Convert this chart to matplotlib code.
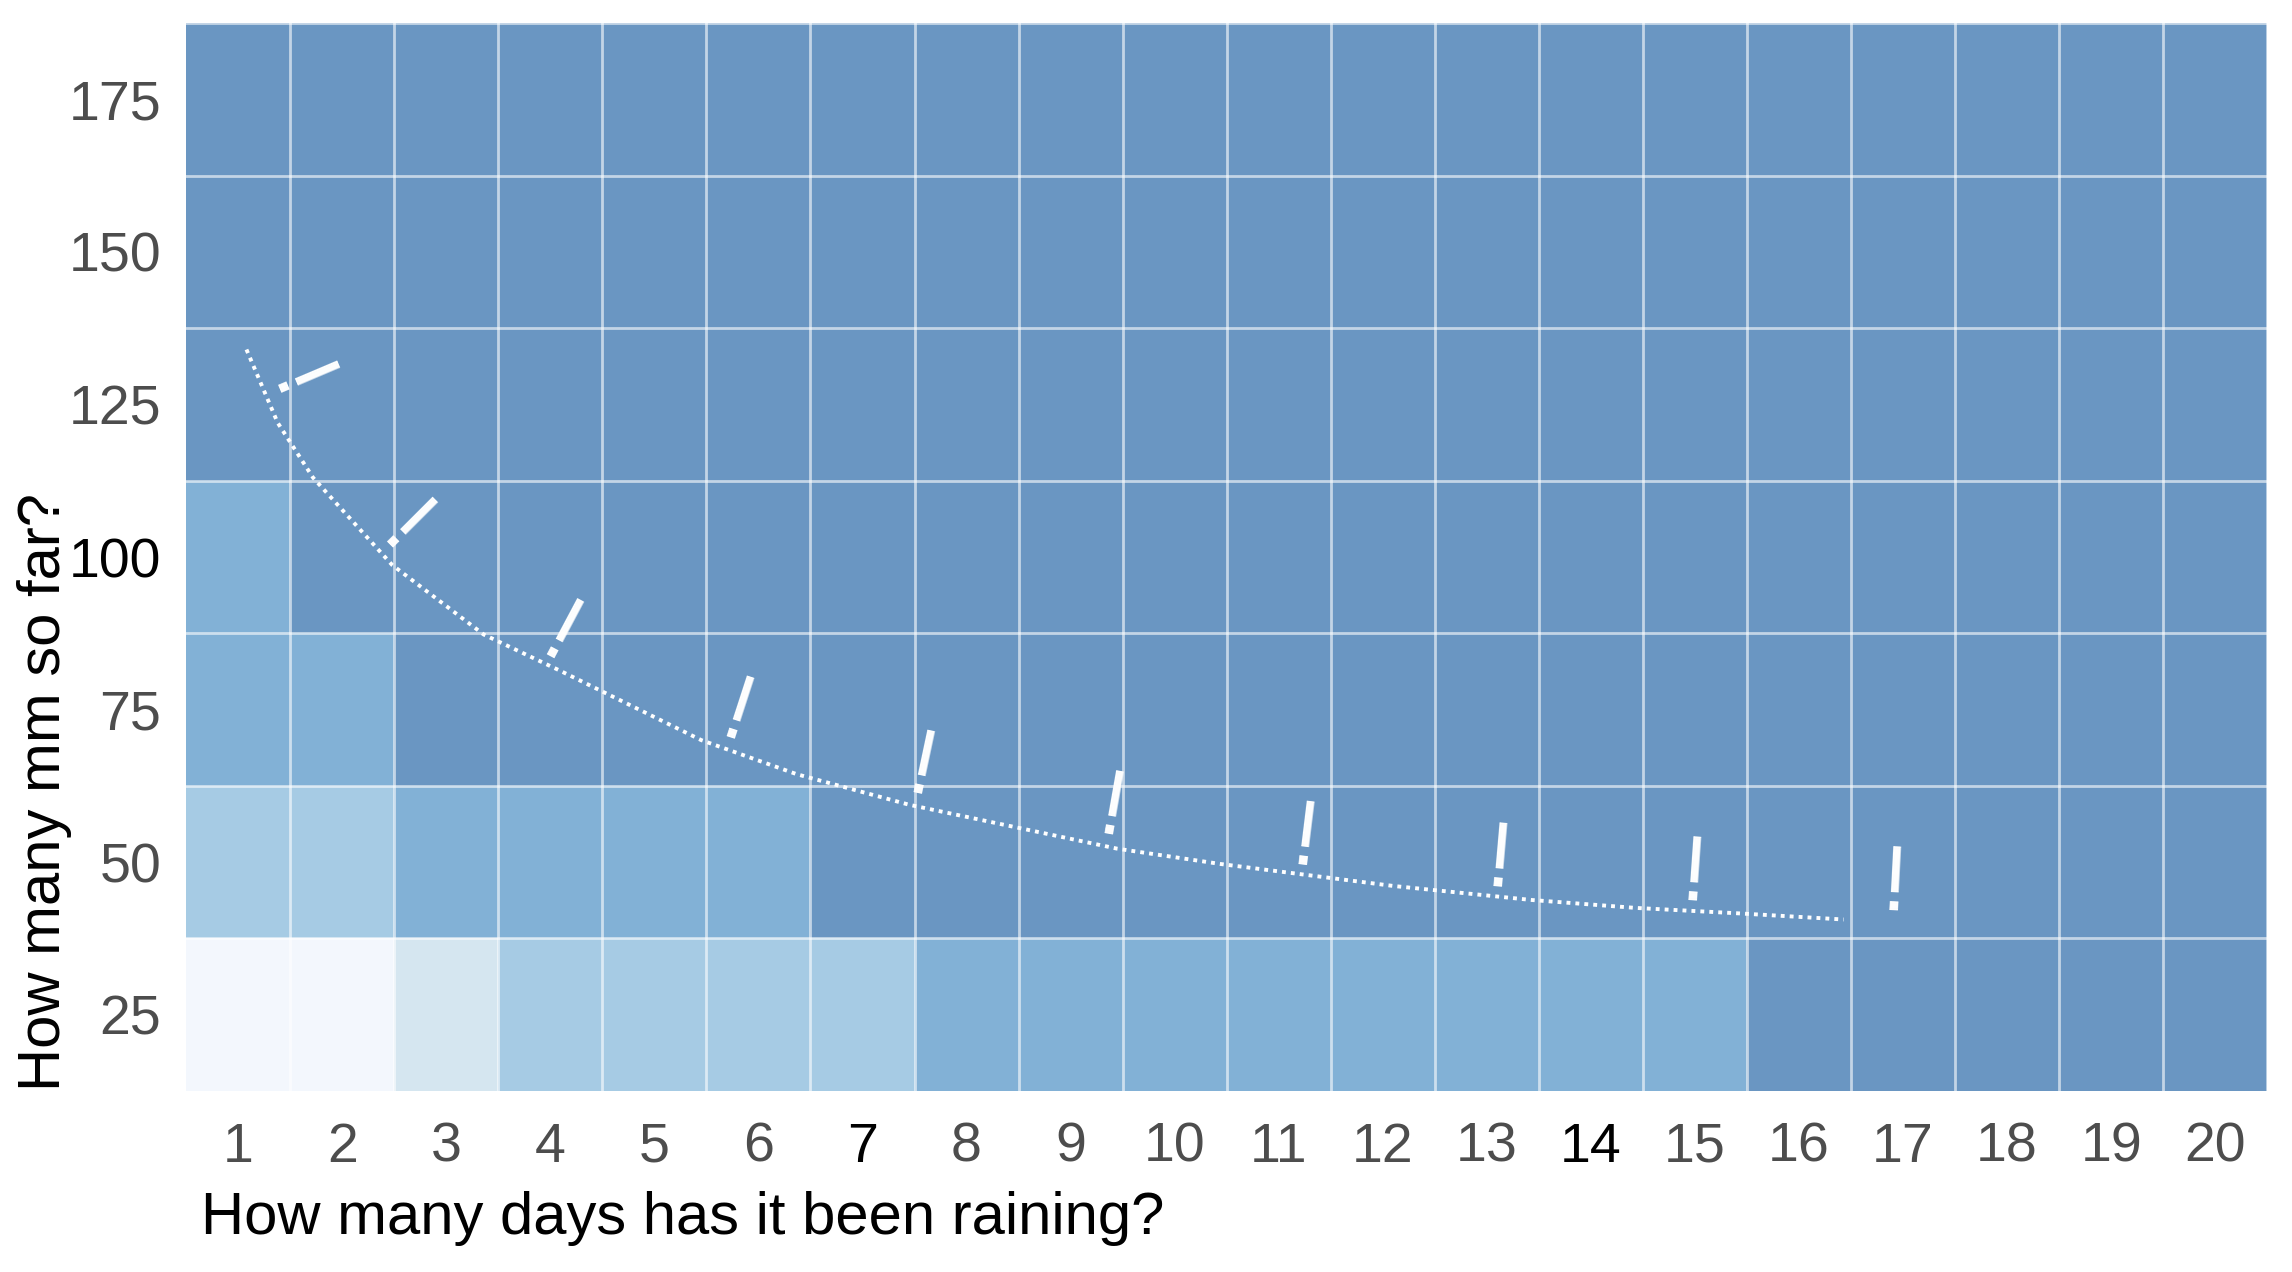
import matplotlib.pyplot as plt
import numpy as np
from matplotlib.colors import ListedColormap

plt.rcParams['font.family'] = ['Liberation Sans', 'DejaVu Sans']

days = np.arange(1, 21)
mm = np.array([25, 50, 75, 100, 125, 150, 175])

# shade level of each cell (0 = lightest, 4 = darkest), rows follow mm
levels = np.array([
    [0, 0, 1, 2, 2, 2, 2, 3, 3, 3, 3, 3, 3, 3, 3, 4, 4, 4, 4, 4],
    [2, 2, 3, 3, 3, 3, 4, 4, 4, 4, 4, 4, 4, 4, 4, 4, 4, 4, 4, 4],
    [3, 3, 4, 4, 4, 4, 4, 4, 4, 4, 4, 4, 4, 4, 4, 4, 4, 4, 4, 4],
    [3, 4, 4, 4, 4, 4, 4, 4, 4, 4, 4, 4, 4, 4, 4, 4, 4, 4, 4, 4],
    [4] * 20,
    [4] * 20,
    [4] * 20,
])

# dotted threshold curve
curve_x = [1.08, 1.38, 1.72, 2.48, 3.36, 4.09, 5.45, 6.37, 7.45, 9.45, 10.44, 12.1, 13.43, 14.43, 15.43, 16.43]
curve_y = [134, 122, 113, 98.7, 87.3, 81.4, 70.0, 64.4, 59.4, 52.2, 49.7, 46.1, 43.8, 42.5, 41.6, 40.6]

# exclamation marks: position and tilt
bang_x = [1.55, 2.59, 4.1, 5.8, 7.57, 9.4, 11.26, 13.12, 14.99, 16.92]
bang_y = [128.0, 103.9, 86.6, 73.7, 64.9, 58.3, 53.3, 49.9, 47.6, 45.9]
bang_rot = [-67, -45, -28, -18, -12, -10, -7, -5, -4, -3]

palette = ['#f3f7fd', '#d5e6f0', '#a6cbe4', '#82b1d6', '#6a96c2']

fig = plt.figure(figsize=(11.46, 6.36), dpi=200)
ax = fig.add_axes([0.0812, 0.1423, 0.908, 0.8396])

x_edges = np.append(days - 0.5, days[-1] + 0.5)
y_edges = np.append(mm - 12.5, mm[-1] + 12.5)
ax.pcolormesh(x_edges, y_edges, levels, cmap=ListedColormap(palette), vmin=-0.5, vmax=4.5)

for xb in x_edges[1:]:
    ax.axvline(xb, color='white', lw=1.0, alpha=0.6)
for yb in y_edges[1:]:
    ax.axhline(yb, color='white', lw=1.0, alpha=0.6)

ax.plot(curve_x, curve_y, color='white', lw=1.4, linestyle=(0, (1, 1.3)))

for bx, by, br in zip(bang_x, bang_y, bang_rot):
    ax.text(bx, by, '!', color='white', fontsize=33, rotation=br,
            ha='center', va='center', rotation_mode='anchor')

ax.set_xlim(x_edges[0], x_edges[-1])
ax.set_ylim(y_edges[0], y_edges[-1])
ax.set_xticks(days)
ax.set_yticks(mm)
ax.tick_params(length=0, labelsize=20, colors='#4d4d4d', pad=9)
ax.tick_params(axis='x', pad=11)
for lab in ax.get_xticklabels():
    if lab.get_text() in ('7', '14'):
        lab.set_color('black')
for lab in ax.get_yticklabels():
    if lab.get_text() == '100':
        lab.set_color('black')
for s in ax.spines.values():
    s.set_visible(False)

ax.set_xlabel('How many days has it been raining?', fontsize=21.5, ha='left', va='center')
ax.xaxis.set_label_coords(0.007, -0.119)
ax.set_ylabel('How many mm so far?', fontsize=21.5, ha='left', va='center')
ax.yaxis.set_label_coords(-0.068, 0.0)

fig.savefig('out.png', dpi=200)
